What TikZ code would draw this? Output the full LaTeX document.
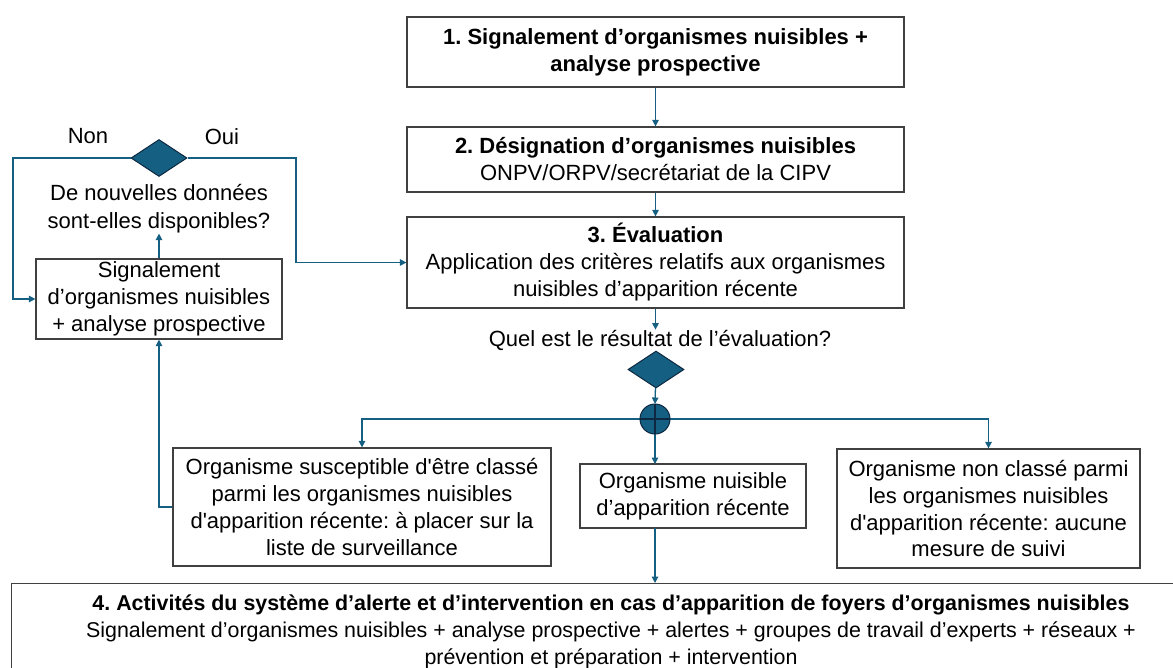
\documentclass[tikz,border=0pt]{standalone}
\usepackage{fontspec}
\setmainfont{Liberation Sans}
\usetikzlibrary{shapes.geometric,arrows.meta}
\definecolor{acc}{HTML}{156082}
\definecolor{navy}{HTML}{0E2841}
\definecolor{bordc}{HTML}{404040}
\newcommand{\sq}{\textquotesingle}
\tikzset{
  box/.style={draw=bordc,line width=1.2pt,fill=white,align=center,inner sep=0pt,
    font=\fontsize{22}{27}\selectfont},
  conn/.style={draw=acc,line width=1.3pt,-{Triangle[length=6.5pt,width=6.5pt]}},
  dia/.style={diamond,draw=navy,fill=acc,line width=1pt,inner sep=0pt,minimum width=56pt,minimum height=37pt},
  lbl/.style={align=center,inner sep=0pt,font=\fontsize{22}{28}\selectfont},
  junction/.style={circle,draw=navy,fill=acc,line width=1pt,minimum size=30pt,inner sep=0pt,
    path picture={\draw[navy,line width=1.2pt] (path picture bounding box.north) -- (path picture bounding box.south) (path picture bounding box.west) -- (path picture bounding box.east);}},
}
\begin{document}
\frenchspacing
\begin{tikzpicture}[x=1pt,y=-1pt]
\useasboundingbox (0,0) rectangle (1173,667);
\clip (0,0) rectangle (1173,667);
% main column
\node[box,minimum width=497pt,minimum height=70pt] (b1) at (655.5,52) {\bfseries 1. Signalement d’organismes nuisibles +\\\bfseries analyse prospective};
\node[box,minimum width=497pt,minimum height=65pt] (b2) at (655.5,159.5) {\bfseries 2. Désignation d’organismes nuisibles\\ONPV/ORPV/secrétariat de la CIPV};
\node[box,minimum width=497pt,minimum height=91pt] (b3) at (655.5,262.5) {\bfseries 3. Évaluation\\Application des critères relatifs aux organismes\\nuisibles d’apparition récente};
\node[lbl] (res) at (660,340) {Quel est le résultat de l’évaluation?};
\node[dia] (d2) at (656,369.5) {};
% left loop
\node[box,minimum width=246pt,minimum height=80pt] (sig) at (159,299) {Signalement\\d’organismes nuisibles\\+ analyse prospective};
\node[lbl] (q) at (159,209) {De nouvelles données\\sont-elles disponibles?};
\node[dia] (d1) at (159,158) {};
\node[lbl] (non) at (88,136) {Non};
\node[lbl] (oui) at (222,137) {Oui};
\coordinate (nl) at (13,158);
\coordinate (nr) at (296,158);
% outcomes
\node[box,minimum width=378pt,minimum height=118pt] (bl) at (362,507) {Organisme susceptible d\sq être classé\\parmi les organismes nuisibles\\d\sq apparition récente: à placer sur la\\liste de surveillance};
\node[box,minimum width=226pt,minimum height=64pt] (bm) at (693,496) {Organisme nuisible\\d’apparition récente};
\node[box,minimum width=303pt,minimum height=119pt] (br) at (988.5,508.5) {Organisme non classé parmi\\les organismes nuisibles\\d\sq apparition récente: aucune\\mesure de suivi};
\coordinate (hl) at (362,419);
\coordinate (hr) at (988.5,419);
% bottom
\node[box,minimum width=1180pt,minimum height=110pt,anchor=north west] (b4) at (11,583) {};
\node[lbl,font=\fontsize{21.4}{27}\selectfont] (b4t) at (611,632) {\bfseries 4. Activités du système d’alerte et d’intervention en cas d’apparition de foyers d’organismes nuisibles\\Signalement d’organismes nuisibles + analyse prospective + alertes + groupes de travail d’experts + réseaux +\\prévention et préparation + intervention};
% connectors
\draw[conn] (b1) -- (b2);
\draw[conn] (b2) -- (b3);
\draw[conn] (b3.south) -- (b3.south |- res.north);
\draw[conn] (d2) -- (655,404);
\draw[conn] (655,434) -- (655,464);
\draw[conn] (655,528) -- (b4.north -| 655,0);
\draw[conn] (655,419) -- (hl) -- (bl.north -| hl);
\draw[conn] (655,419) -- (hr) -- (br.north);
\draw[conn] (bl.west) -| (sig.south);
\draw[conn] (sig.north) -- (q.south);
\draw[conn] (d1.west) -- (nl) |- (sig.west);
\draw[conn] (d1.east) -- (nr) |- (b3.west);
\node[junction] (ci) at (655,419) {};
\end{tikzpicture}
\end{document}
